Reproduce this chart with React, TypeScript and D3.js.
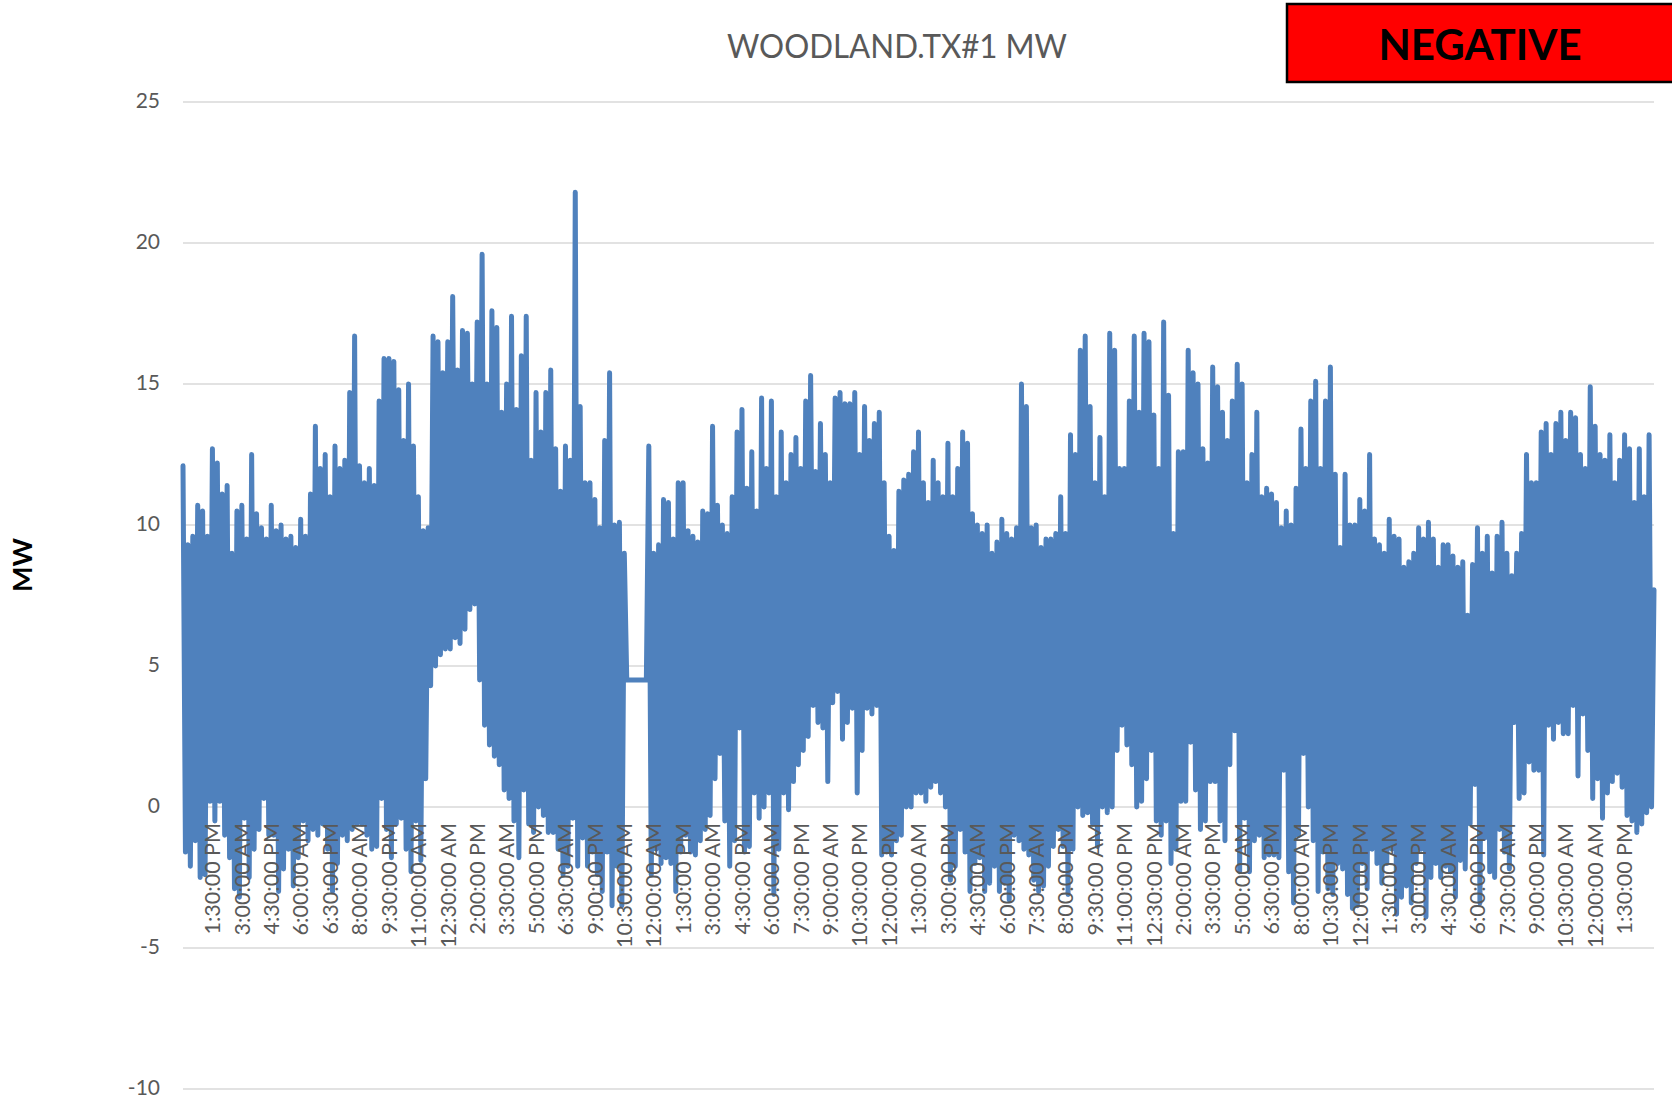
import React from 'react';
import * as d3 from 'd3';

const chartTitle = 'WOODLAND.TX#1 MW';
const badgeText = 'NEGATIVE';
const yAxisTitle = 'MW';
const yTicks = [-10, -5, 0, 5, 10, 15, 20, 25];

const xLabels = [
  '1:30:00 PM', '3:00:00 AM', '4:30:00 PM', '6:00:00 AM', '6:30:00 PM', '8:00:00 AM', '9:30:00 PM',
  '11:00:00 AM', '12:30:00 AM', '2:00:00 PM', '3:30:00 AM', '5:00:00 PM', '6:30:00 AM', '9:00:00 PM',
  '10:30:00 AM', '12:00:00 AM', '1:30:00 PM', '3:00:00 AM', '4:30:00 PM', '6:00:00 AM', '7:30:00 PM',
  '9:00:00 AM', '10:30:00 PM', '12:00:00 PM', '1:30:00 AM', '3:00:00 PM', '4:30:00 AM', '6:00:00 PM',
  '7:30:00 AM', '8:00:00 PM', '9:30:00 AM', '11:00:00 PM', '12:30:00 PM', '2:00:00 AM', '3:30:00 PM',
  '5:00:00 AM', '6:30:00 PM', '8:00:00 AM', '10:30:00 PM', '12:00:00 PM', '1:30:00 AM', '3:00:00 PM',
  '4:30:00 AM', '6:00:00 PM', '7:30:00 AM', '9:00:00 PM', '10:30:00 AM', '12:00:00 AM', '1:30:00 PM',
];

// MW readings, 12 per label interval
const mw = [
  12.1, -1.6, 9.3, -2.1, 9.6, -1.2, 10.7, -2.5, 10.5, -2.4, 9.6, 0.2,
  12.7, -0.5, 12.2, 0.2, 11.1, -1.0, 11.4, -1.8, 9.0, -2.9, 10.5, -3.2,
  10.7, -0.4, 9.5, -2.5, 12.5, -1.5, 10.4, -0.8, 9.9, 0.3, 9.5, -1.0,
  10.7, -1.0, 9.8, -3.0, 10.0, -2.2, 9.5, -1.5, 9.6, -2.8, 9.2, -1.8,
  10.2, -0.5, 9.6, -1.2, 11.1, -0.8, 13.5, -1.0, 12.0, -0.6, 12.5, -1.5,
  11.0, -3.0, 12.8, -2.0, 12.0, -1.0, 12.3, -1.2, 14.7, -0.8, 16.7, -0.6,
  12.1, -0.6, 11.5, -1.0, 12.0, -1.5, 11.4, -1.4, 14.4, 0.3, 15.9, -0.8,
  15.9, -1.8, 15.8, -0.6, 14.8, -0.4, 13.0, -1.5, 15.0, -2.3, 12.8, -0.5,
  11.0, -1.9, 9.8, 1.0, 9.9, 4.3, 16.7, 5.0, 16.5, 5.4, 15.4, 5.6,
  16.5, 5.6, 18.1, 6.0, 15.5, 5.8, 16.9, 6.3, 16.8, 7.0, 15.0, 7.2,
  17.2, 4.5, 19.6, 2.9, 15.0, 2.2, 17.6, 1.8, 17.0, 1.5, 14.0, 0.6,
  15.0, 0.3, 17.4, -0.5, 14.1, -1.8, 16.0, 0.6, 17.4, -0.6, 12.3, -0.9,
  14.7, 0.0, 13.3, -0.3, 14.7, -0.9, 15.5, -0.9, 12.7, -1.5, 11.2, -2.4,
  12.8, -2.1, 12.3, -0.4, 21.8, -2.1, 14.2, -1.1, 11.5, -2.1, 11.5, -1.6,
  10.9, -2.4, 9.9, -3.0, 13.0, -1.6, 15.4, -3.5, 10.0, -2.1, 10.1, -3.5,
  9.0, 4.5, 4.5, 4.5, 4.5, 4.5, 4.5, 4.5, 4.5, 4.5, 12.8, -2.4,
  9.0, -1.5, 9.3, -2.0, 10.9, -1.8, 10.8, -2.0, 9.5, -3.0, 11.5, -1.6,
  11.5, -1.0, 9.8, -1.6, 9.6, -1.7, 9.4, -1.2, 10.5, -0.8, 10.4, -0.3,
  13.5, 1.0, 10.7, 1.9, 10.0, -0.5, 9.7, -2.1, 11.0, -1.2, 13.3, 2.8,
  14.1, -1.6, 11.3, -1.4, 12.6, 0.5, 10.5, -0.4, 14.5, 0.0, 12.0, 0.5,
  14.4, -3.1, 11.0, -1.5, 13.3, 0.5, 11.5, -0.1, 12.5, 0.9, 13.1, 1.5,
  12.0, 2.0, 14.4, 2.5, 15.3, 3.6, 11.9, 3.0, 13.6, 2.8, 12.5, 0.9,
  11.5, 3.7, 14.5, 4.1, 14.7, 2.4, 14.3, 3.0, 14.3, 3.5, 14.7, 0.5,
  12.5, 2.0, 14.2, 3.5, 13.0, 3.3, 13.6, 3.6, 14.0, -1.7, 11.5, -1.6,
  9.6, -1.7, 9.1, -1.2, 11.2, -1.0, 11.6, 0.0, 11.8, 0.0, 12.6, 0.5,
  13.3, 0.5, 11.5, 0.2, 10.8, 0.7, 12.3, 0.9, 11.5, 0.5, 11.0, 0.0,
  12.9, -2.6, 11.0, -2.1, 12.0, -0.8, 13.3, -1.6, 12.9, -3.0, 10.4, -2.0,
  10.0, -1.8, 9.7, -3.0, 10.0, -2.7, 9.0, -2.1, 9.4, -3.0, 10.2, -2.7,
  9.7, -3.3, 9.5, -1.0, 9.9, -1.2, 15.0, -1.5, 14.2, -1.7, 9.9, -2.6,
  10.0, -3.0, 9.2, -2.8, 9.5, -2.1, 9.5, -1.4, 9.7, -0.8, 11.0, -1.4,
  9.7, -3.1, 13.2, -1.5, 12.5, 0.0, 16.2, -0.3, 16.7, -0.2, 14.2, -0.6,
  11.5, -1.4, 13.1, 0.0, 11.0, -0.2, 16.8, 0.0, 16.2, 2.0, 12.0, 2.9,
  12.0, 2.2, 14.4, 1.5, 16.7, 0.0, 14.0, 0.2, 16.8, 1.0, 16.5, 2.0,
  13.9, -0.5, 12.0, -1.0, 17.2, -0.5, 14.6, -2.0, 9.7, -1.5, 12.6, 0.2,
  12.6, 0.2, 16.2, 2.3, 15.4, 0.6, 15.0, -0.8, 12.7, -0.5, 12.2, 0.9,
  15.6, 0.9, 14.9, -0.5, 14.0, -1.2, 13.0, 1.5, 14.4, 2.7, 15.7, -2.3,
  15.0, -0.4, 11.5, -2.3, 12.5, -1.2, 14.0, -1.0, 11.0, -1.8, 11.3, -1.7,
  11.1, -1.7, 10.8, -1.8, 9.9, 1.3, 10.5, -2.3, 10.0, -3.4, 11.3, -1.0,
  13.4, 1.9, 12.0, 0.0, 14.4, -1.2, 15.1, -3.0, 12.0, -1.6, 14.4, -2.9,
  15.6, -3.1, 11.8, -2.0, 9.2, -2.2, 11.8, -3.1, 10.0, -3.6, 10.0, -3.5,
  10.9, -2.0, 10.5, -2.9, 12.5, -1.5, 9.5, -2.0, 9.3, -2.7, 9.0, -2.0,
  10.2, -1.5, 9.6, -3.8, 9.5, -3.2, 8.5, -2.8, 8.7, -3.4, 9.0, -2.0,
  9.9, -1.5, 9.5, -3.9, 10.1, -2.5, 9.5, -2.0, 8.5, -2.5, 9.3, -2.1,
  9.3, -2.3, 8.9, -3.2, 8.5, -1.9, 8.7, -2.2, 6.8, -0.6, 8.6, 0.8,
  9.9, -3.4, 9.0, -1.1, 9.6, -2.3, 8.3, -2.5, 9.6, -0.8, 10.1, -1.6,
  9.0, -2.2, 8.2, 3.0, 9.0, 0.3, 9.7, 0.5, 12.5, 1.6, 11.5, 1.3,
  11.5, 1.3, 13.3, -1.7, 13.6, 2.9, 12.5, 2.4, 13.6, 3.0, 14.0, 2.6,
  13.0, 2.6, 14.0, 3.6, 13.8, 1.1, 12.5, 3.3, 12.0, 2.0, 14.9, 0.3,
  13.5, 1.0, 12.5, -0.4, 12.3, 0.5, 13.2, 0.9, 11.5, 1.2, 12.3, 0.7,
  13.2, -0.3, 12.7, -0.5, 10.8, -0.9, 12.7, -0.6, 11.0, -0.2, 13.2, 0.0,
  7.7,
];

const FONT = 'Lato, "Open Sans", sans-serif';

export default function App() {
  const W = 1672;
  const H = 1099;
  const left = 183;
  const right = 1654;
  const top = 102;
  const bottom = 1089;

  const x = d3.scaleLinear().domain([0, mw.length - 1]).range([left, right]);
  const slot = d3.scaleLinear().domain([0, xLabels.length + 1]).range([left, right]);
  const y = d3.scaleLinear().domain([-10, 25]).range([bottom, top]);
  const linePath = d3
    .line<number>()
    .x((_, i) => x(i))
    .y((d) => y(d))(mw) || '';

  const labelTop = y(0) + 16;
  const labelClip = y(-5) - 1;

  return (
    <svg
      width={W}
      height={H}
      viewBox={`0 0 ${W} ${H}`}
      style={{ position: 'absolute', left: 0, top: 0, display: 'block', background: '#ffffff' }}
    >
      <defs>
        <clipPath id="xlabClip">
          <rect x={0} y={0} width={W} height={labelClip} />
        </clipPath>
      </defs>
      <rect x={0} y={0} width={W} height={H} fill="#ffffff" />

      {/* gridlines */}
      {yTicks.map((t) => (
        <line key={`g${t}`} x1={left} x2={right} y1={y(t)} y2={y(t)} stroke="#d9d9d9" strokeWidth={1.6} />
      ))}

      {/* y tick labels */}
      {yTicks.map((t) => (
        <text
          key={`t${t}`}
          x={160}
          y={y(t)}
          dy="0.27em"
          textAnchor="end"
          fontFamily={FONT}
          fontSize={21}
          fill="#595959"
        >
          {t}
        </text>
      ))}

      {/* series */}
      <path
        d={linePath}
        fill="none"
        stroke="#4f81bd"
        strokeWidth={5}
        strokeLinejoin="round"
        strokeLinecap="round"
      />

      {/* x labels */}
      <g clipPath="url(#xlabClip)">
        {xLabels.map((lab, i) => (
          <text
            key={`x${i}`}
            transform={`translate(${slot(i + 1)},${labelTop}) rotate(-90)`}
            dy="0.36em"
            textAnchor="end"
            fontFamily={FONT}
            fontSize={21.5}
            fill="#595959"
          >
            {lab}
          </text>
        ))}
      </g>

      {/* y axis title */}
      <text
        transform={`translate(22,565) rotate(-90)`}
        dy="0.36em"
        textAnchor="middle"
        fontFamily={FONT}
        fontWeight="bold"
        fontSize={27}
        fill="#000000"
      >
        {yAxisTitle}
      </text>

      {/* chart title */}
      <text
        x={897}
        y={58}
        textAnchor="middle"
        fontFamily={FONT}
        fontSize={33}
        textLength={340}
        lengthAdjust="spacingAndGlyphs"
        fill="#595959"
      >
        {chartTitle}
      </text>

      {/* badge */}
      <rect x={1287} y={4} width={400} height={78} fill="#ff0000" stroke="#000000" strokeWidth={2.5} />
      <text
        x={1480}
        y={60}
        textAnchor="middle"
        fontFamily={FONT}
        fontWeight="bold"
        fontSize={42}
        fill="#000000"
      >
        {badgeText}
      </text>
    </svg>
  );
}
